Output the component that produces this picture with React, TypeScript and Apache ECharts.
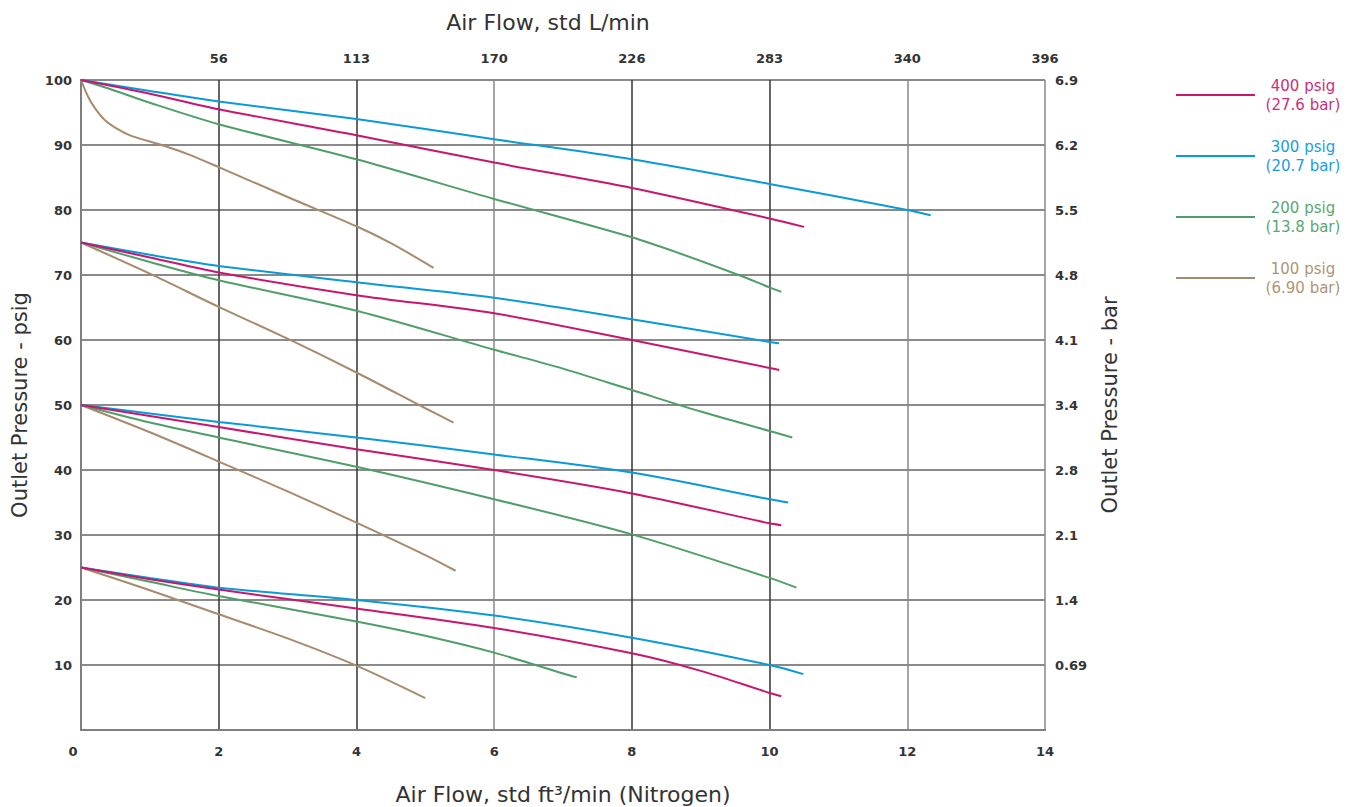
import React, { useEffect, useRef } from "react";
import * as echarts from "echarts";

// ---------- data (flow std ft³/min, outlet pressure psig) ----------
const p400_out100 = [[0, 100], [1, 97.9], [2, 95.5], [4, 91.5], [6, 87.3], [8, 83.4], [10, 78.7], [10.5, 77.4]];
const p400_out75 = [[0, 75], [1, 72.7], [2, 70.4], [4, 66.9], [6, 64.1], [8, 60.0], [10, 55.7], [10.14, 55.4]];
const p400_out50 = [[0, 50], [1, 48.3], [2, 46.6], [4, 43.2], [6, 40.0], [8, 36.4], [10, 31.8], [10.17, 31.5]];
const p400_out25 = [[0, 25], [1, 23.2], [2, 21.6], [4, 18.7], [6, 15.7], [8, 11.8], [9, 9.1], [10, 5.7], [10.17, 5.2]];

const p300_out100 = [[0, 100], [1, 98.3], [2, 96.7], [4, 94.0], [6, 90.9], [8, 87.8], [10, 84.0], [12, 80.0], [12.34, 79.2]];
const p300_out75 = [[0, 75], [1, 73.1], [2, 71.4], [4, 68.9], [6, 66.5], [8, 63.2], [10, 59.7], [10.14, 59.5]];
const p300_out50 = [[0, 50], [1, 48.7], [2, 47.4], [4, 45.0], [6, 42.4], [8, 39.6], [10, 35.5], [10.27, 35.0]];
const p300_out25 = [[0, 25], [1, 23.4], [2, 21.9], [4, 20.0], [6, 17.6], [8, 14.2], [10, 10.0], [10.49, 8.6]];

const p200_out100 = [[0, 100], [0.4, 98.7], [1, 96.5], [2, 93.2], [4, 87.8], [6, 81.7], [8, 75.8], [8.7, 73.3], [9.55, 70.0], [10, 68.1], [10.17, 67.4]];
const p200_out75 = [[0, 75], [1, 72.0], [2, 69.2], [4, 64.5], [6, 58.5], [7, 55.6], [8, 52.3], [9, 49.0], [10, 46.0], [10.33, 45.0]];
const p200_out50 = [[0, 50], [1, 47.3], [2, 45.0], [4, 40.5], [6, 35.5], [8, 30.1], [10, 23.4], [10.39, 21.9]];
const p200_out25 = [[0, 25], [1, 22.8], [2, 20.6], [4, 16.7], [5, 14.5], [6, 11.9], [7, 8.7], [7.2, 8.1]];

const p100_out100 = [[0, 100], [0.1, 97.5], [0.2, 95.7], [0.34, 93.9], [0.54, 92.4], [0.73, 91.4], [1.17, 90.0], [1.55, 88.6], [2, 86.6], [3, 82.0], [4, 77.5], [4.5, 74.9], [5.12, 71.1]];
const p100_out75 = [[0, 75], [1, 70.2], [2, 65.1], [3, 60.2], [4, 55.0], [5, 49.5], [5.41, 47.3]];
const p100_out50 = [[0, 50], [1, 45.8], [2, 41.3], [3, 36.7], [4, 31.9], [5, 26.9], [5.44, 24.5]];
const p100_out25 = [[0, 25], [1, 21.5], [2, 17.8], [3, 14.1], [4, 9.9], [5, 4.9]];

const inletNames = ["400 psig", "300 psig", "200 psig", "100 psig"];
const inletBar = ["(27.6 bar)", "(20.7 bar)", "(13.8 bar)", "(6.90 bar)"];
const lineColors = ["#c8166f", "#0b9ad8", "#4f9e6a", "#a88a6c"];
const textColors = ["#cc2e7d", "#1c9ddb", "#5aa676", "#b09474"];
const seriesByInlet = [
  [p400_out100, p400_out75, p400_out50, p400_out25],
  [p300_out100, p300_out75, p300_out50, p300_out25],
  [p200_out100, p200_out75, p200_out50, p200_out25],
  [p100_out100, p100_out75, p100_out50, p100_out25],
];

const bottomTicks = ["0", "2", "4", "6", "8", "10", "12", "14"];
const topTicks = ["", "56", "113", "170", "226", "283", "340", "396"];
const leftTicks = ["", "10", "20", "30", "40", "50", "60", "70", "80", "90", "100"];
const rightTicks = ["", "0.69", "1.4", "2.1", "2.8", "3.4", "4.1", "4.8", "5.5", "6.2", "6.9"];

const FONT = "DejaVu Sans, Verdana, sans-serif";
const FRAME = "#7f7f7f";

export default function App() {
  const ref = useRef<HTMLDivElement>(null);
  useEffect(() => {
    if (!ref.current) return;
    const chart = echarts.init(ref.current, undefined, { renderer: "svg" });
    const labelStyle = { fontFamily: FONT, fontSize: 13, fontWeight: "bold" as const, color: "#333" };
    const nameStyle = { fontFamily: FONT, fontSize: 21, color: "#333" };
    const hNameStyle = { fontFamily: FONT, fontSize: 22, color: "#333" };

    const series: any[] = [];
    seriesByInlet.forEach((group, i) => {
      group.forEach((d) => {
        series.push({
          type: "line",
          name: inletNames[i],
          data: d,
          xAxisIndex: 0,
          yAxisIndex: 0,
          smooth: 0.3,
          showSymbol: false,
          symbol: "none",
          lineStyle: { color: lineColors[i], width: 2 },
          itemStyle: { color: lineColors[i] },
          z: 5 - i,
        });
      });
    });

    chart.setOption({
      animation: false,
      textStyle: { fontFamily: FONT },
      grid: { left: 81, right: 320, top: 80, bottom: 77, containLabel: false, outerBoundsMode: "none" },
      legend: {
        orient: "vertical",
        left: 1176,
        top: 78,
        padding: 0,
        itemWidth: 79,
        itemHeight: 2,
        itemGap: 27,
        icon: "rect",
        selectedMode: false,
        data: inletNames.map((n, i) => ({ name: n, textStyle: { color: textColors[i] } })),
        formatter: (name: string) => `{t|${name}}\n{t|${inletBar[inletNames.indexOf(name)]}}`,
        textStyle: {
          fontFamily: FONT,
          fontSize: 15,
          rich: { t: { width: 86, align: "center", fontSize: 15, lineHeight: 19, fontFamily: FONT } },
        },
      },
      xAxis: [
        {
          type: "value",
          position: "bottom",
          min: 0,
          max: 14,
          interval: 2,
          name: "Air Flow, std ft³/min (Nitrogen)",
          nameLocation: "middle",
          nameGap: 53,
          nameTextStyle: hNameStyle,
          axisLine: { show: true, lineStyle: { color: FRAME, width: 2 } },
          axisTick: { show: false },
          axisLabel: {
            ...labelStyle,
            margin: 15,
            formatter: (v: number) => (v === 0 ? "{z|0}" : bottomTicks[Math.round(v / 2)]),
            rich: { z: { ...labelStyle, padding: [0, 16, 0, 0] } },
          },
          splitLine: {
            show: true,
            lineStyle: { width: 1.5, color: ["#888", "#333", "#333", "#888", "#333", "#333", "#888", "#888"] },
          },
        },
        {
          type: "value",
          position: "top",
          min: 0,
          max: 14,
          interval: 2,
          name: "Air Flow, std L/min",
          nameLocation: "middle",
          nameGap: 47,
          nameTextStyle: { ...hNameStyle, padding: [0, 30, 0, 0] },
          axisLine: { show: true, lineStyle: { color: FRAME, width: 2 } },
          axisTick: { show: false },
          axisLabel: {
            ...labelStyle,
            margin: 15,
            formatter: (v: number) => topTicks[Math.round(v / 2)],
          },
          splitLine: { show: false },
        },
      ],
      yAxis: [
        {
          type: "value",
          position: "left",
          min: 0,
          max: 100,
          interval: 10,
          name: "Outlet Pressure - psig",
          nameLocation: "middle",
          nameGap: 51,
          nameTextStyle: nameStyle,
          axisLine: { show: true, lineStyle: { color: FRAME, width: 2 } },
          axisTick: { show: false },
          axisLabel: { ...labelStyle, margin: 9, formatter: (v: number) => leftTicks[Math.round(v / 10)] },
          splitLine: { show: true, lineStyle: { color: "#8a8a8a", width: 2 } },
        },
        {
          type: "value",
          position: "right",
          min: 0,
          max: 100,
          interval: 10,
          name: "Outlet Pressure - bar",
          nameLocation: "middle",
          nameGap: 54,
          nameTextStyle: nameStyle,
          axisLine: { show: true, lineStyle: { color: FRAME, width: 2 } },
          axisTick: { show: false },
          axisLabel: { ...labelStyle, margin: 10, formatter: (v: number) => rightTicks[Math.round(v / 10)] },
          splitLine: { show: false },
        },
      ],
      series,
    });
    return () => chart.dispose();
  }, []);
  return <div ref={ref} style={{ width: 1365, height: 807, position: "absolute", left: 0, top: 0 }} />;
}
